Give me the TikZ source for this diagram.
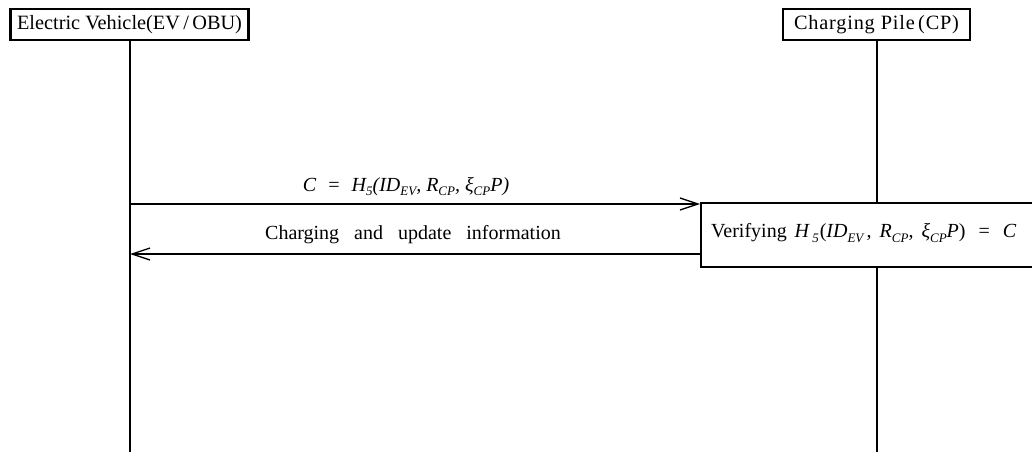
\documentclass[tikz,border=0pt]{standalone}
\usepackage{fontspec}
\setmainfont{Liberation Serif}
\usetikzlibrary{arrows.meta}
\newcommand{\lowsub}[1]{\raisebox{-0.45ex}{\fontsize{13}{13}\selectfont\itshape #1}}
\begin{document}
\begin{tikzpicture}[x=1pt,y=-1pt,
  actor/.style={draw,line width=2.2pt,fill=white,inner sep=0pt,minimum height=31pt,font=\fontsize{20.3}{22}\selectfont},
  lifeline/.style={line width=2pt},
  msg/.style={line width=1.3pt,-{Straight Barb[length=18pt,width=12pt,line width=1.3pt]}},
  lbl/.style={font=\fontsize{20}{22}\selectfont,inner sep=0pt}]
\useasboundingbox (0,0) rectangle (1032,452);
\clip (0,0) rectangle (1032,452);

% participants
\node[actor,minimum width=238pt] (ev) at (129.5,24.5) {Electric Vehicle(EV\,/\,OBU)};
\node[actor,minimum width=187pt] (cp) at (876.5,24.5) {\addfontfeature{LetterSpace=4}Charging Pile\,(CP)};

% lifeline ends
\coordinate (evend) at (130,452);
\coordinate (cpend) at (877,452);
\draw[lifeline] (ev.south -| evend) -- (evend);
\draw[lifeline] (cp.south -| cpend) -- (cpend);

% verification box, open towards the right edge
\node[draw,line width=2.2pt,fill=white,anchor=north west,minimum width=360pt,minimum height=64pt,inner sep=0pt] (ver) at (700,201.5) {};
\node[lbl,anchor=west] (vtxt) at (711,233) {Verifying\hspace{3pt} \textit{H}\lowsub{\,5}\hspace{1pt}(\textit{ID}\lowsub{EV}\,,\hspace{3pt} \textit{R}\lowsub{CP},\hspace{3pt} \textit{ξ}\lowsub{CP}\textit{P})\hspace{8pt} =\hspace{8pt} \textit{C}};

% messages
\coordinate (m1s) at (130,204);
\coordinate (m2e) at (130,254);
\draw[msg] (m1s) -- (m1s -| ver.west);
\draw[msg] (m2e -| ver.west) -- (m2e);

\node[lbl] (m1) at (406,187) {\itshape C\hspace{6pt} =\hspace{6pt} H\lowsub{5}(ID\lowsub{EV}, R\lowsub{CP}, ξ\lowsub{CP}P)};
\node[lbl] (m2) at (413,235) {Charging\hspace{10pt} and\hspace{10pt} update\hspace{10pt} information};
\end{tikzpicture}
\end{document}
